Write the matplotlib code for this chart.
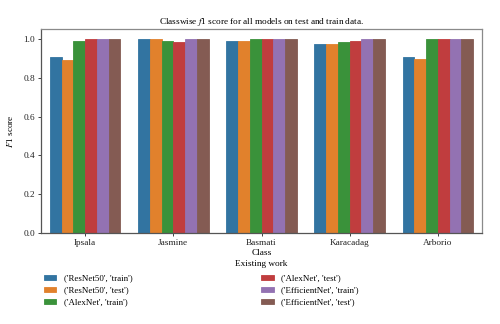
import matplotlib
matplotlib.use("Agg")
import matplotlib.pyplot as plt
import numpy as np

classes = ["Ipsala", "Jasmine", "Basmati", "Karacadag", "Arborio"]
series_labels = ["('ResNet50', 'train')", "('ResNet50', 'test')",
                 "('AlexNet', 'train')", "('AlexNet', 'test')",
                 "('EfficientNet', 'train')", "('EfficientNet', 'test')"]
resnet_train = [0.905, 1.0, 0.987, 0.976, 0.906]
resnet_test = [0.891, 1.0, 0.987, 0.973, 0.894]
alexnet_train = [0.988, 0.99, 1.0, 0.985, 1.0]
alexnet_test = [1.0, 0.985, 1.0, 0.987, 1.0]
effnet_train = [1.0, 1.0, 1.0, 1.0, 1.0]
effnet_test = [1.0, 1.0, 1.0, 1.0, 1.0]
series = [resnet_train, resnet_test, alexnet_train, alexnet_test, effnet_train, effnet_test]

colors = ["#3274a1", "#e1812c", "#3a923a", "#c03d3e", "#9372b2", "#845b53"]

plt.rcParams["font.family"] = ["Liberation Serif", "DejaVu Serif"]
plt.rcParams["mathtext.fontset"] = "stix"

fig = plt.figure(figsize=(5.0, 3.24), dpi=100)
ax = fig.add_axes([0.082, 0.281, 0.882, 0.629])

x = np.arange(len(classes))
n = len(series)
w = 0.8 / n
for i, (vals, lab, c) in enumerate(zip(series, series_labels, colors)):
    ax.bar(x - 0.4 + w * (i + 0.5), vals, width=w, color=c, edgecolor=c,
           linewidth=0.6, label=lab)

ax.set_xlim(-0.5, 4.5)
ax.set_ylim(0, 1.05)
ax.set_yticks([0.0, 0.2, 0.4, 0.6, 0.8, 1.0])
ax.set_xticks(x)
ax.set_xticklabels(classes)
ax.tick_params(labelsize=6.7, length=2.5, width=0.6, pad=2, colors="#222222")
for s in ax.spines.values():
    s.set_color("#8a8a8a")
    s.set_linewidth(0.9)
ax.spines["left"].set_color("#555555")
ax.spines["bottom"].set_color("#555555")

ax.set_title(r"Classwise $\mathit{f}$1 score for all models on test and train data.",
             fontsize=6.7, pad=4)
ax.set_ylabel(r"$\mathit{F}$1 score", fontsize=6.7, labelpad=6)
ax.set_xlabel("Class", fontsize=6.7, labelpad=1)
fig.text(0.523, 0.185, "Existing work", ha="center", va="center", fontsize=6.7)

handles, labels = ax.get_legend_handles_labels()
fig.legend(handles, labels, loc="upper left", bbox_to_anchor=(0.072, 0.178),
           ncol=2, frameon=False, fontsize=6.4, columnspacing=14.5,
           handlelength=1.4, handleheight=0.5, labelspacing=0.45,
           handletextpad=0.8)

fig.savefig("out.png", dpi=100)
